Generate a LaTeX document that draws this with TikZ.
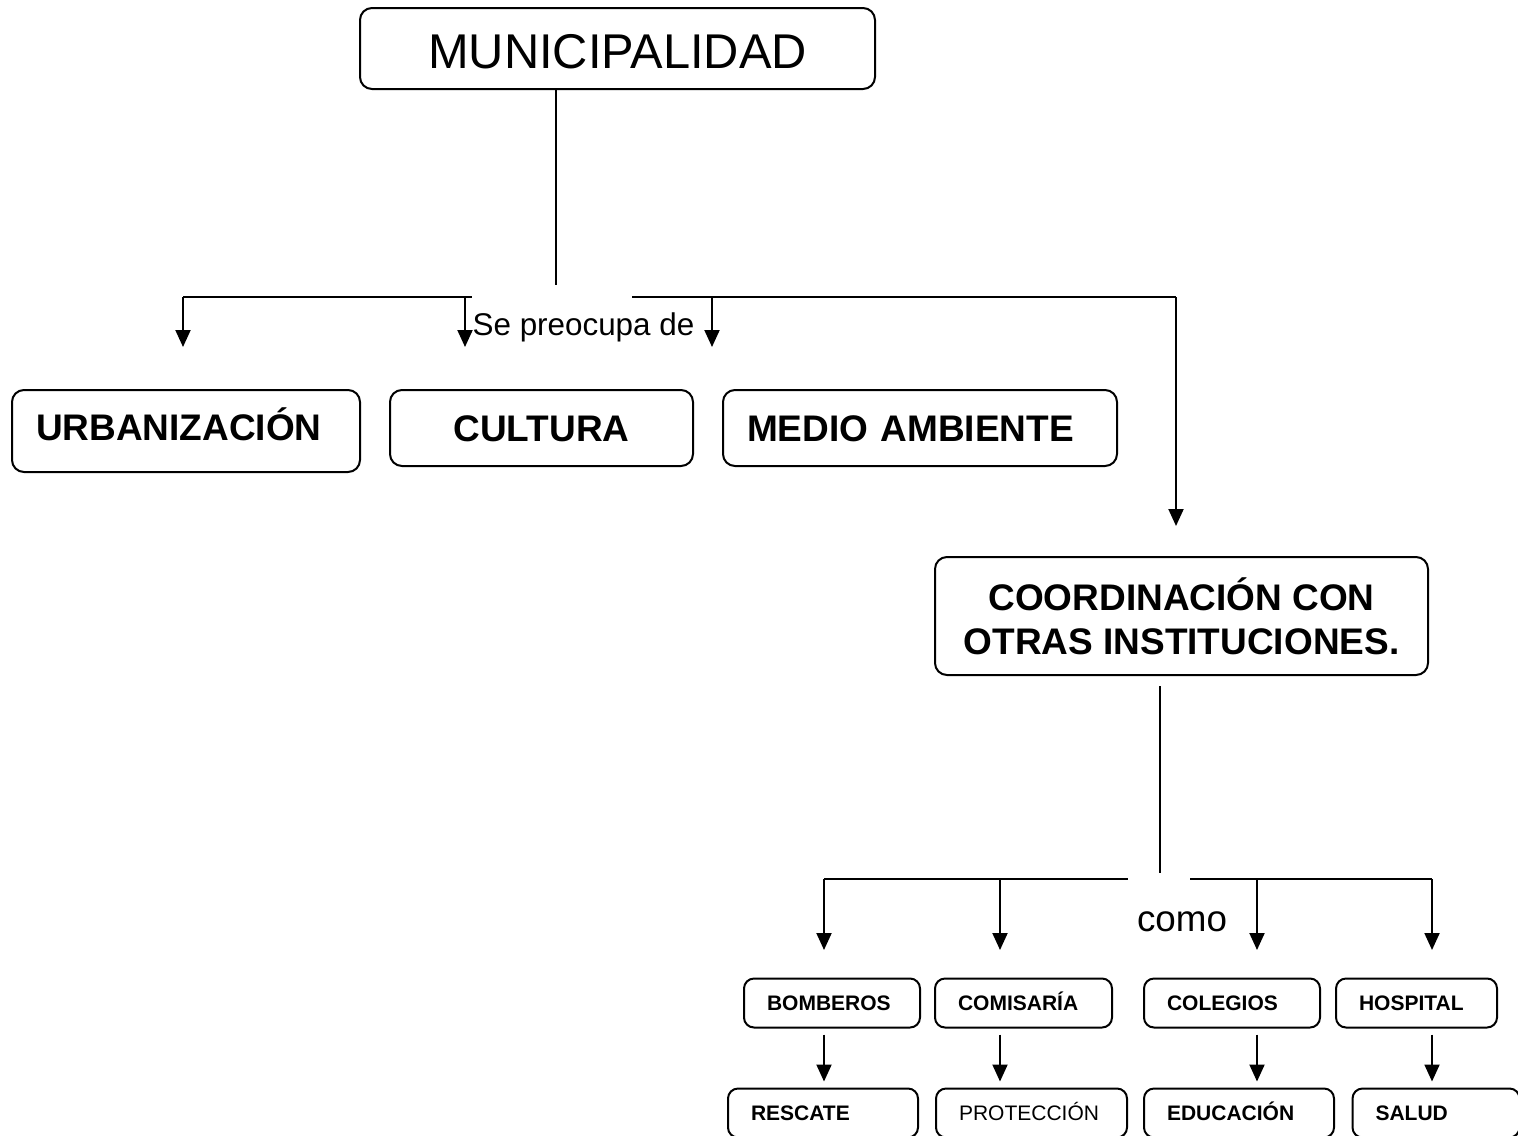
\documentclass[tikz,border=0pt]{standalone}
\usepackage{fontspec}
\setmainfont{Liberation Sans}
\usetikzlibrary{arrows.meta}
\newcommand\letragrande{\fontsize{18.5}{22}\selectfont\bfseries}
\newcommand\letrachica{\fontsize{10.5}{12}\selectfont}
\tikzset{
  linea/.style={line width=1pt},
  flecha/.style={linea, -{Triangle[length=8.5pt,width=7.5pt]}},
  caja/.style={draw, line width=1pt, rounded corners=6pt, inner sep=0pt, font=\letragrande},
  cajaizq/.style={caja, align=left, inner xsep=12pt, text height=13.2pt, text depth=0pt},
  chica/.style={draw, line width=1pt, rounded corners=5pt, inner ysep=0pt, inner xsep=11.5pt,
    align=left, minimum height=24.5pt, text height=7.5pt, text depth=0pt, font=\letrachica\bfseries},
}
\begin{document}
\begin{tikzpicture}[x=0.5pt,y=-0.5pt]
\clip (0,0) rectangle (1518,1135);
% cajas
\node[caja, minimum width=257.5pt, minimum height=40.5pt, text height=19.5pt, text depth=0pt,
  font=\fontsize{24.4}{28}\selectfont] (muni) at (617.5,48.5) {MUNICIPALIDAD};
\node[cajaizq, text width=150pt, minimum height=41pt, text depth=3.5pt] (urb) at (186,431) {URBANIZACIÓN};
\node[caja, minimum width=151.5pt, minimum height=38pt, text height=13.2pt, text depth=0pt] (cul) at (541.5,428) {CULTURA};
\node[cajaizq, text width=173pt, minimum height=38pt] (med) at (920,428) {MEDIO AMBIENTE};
\node[caja, align=center, minimum width=246.5pt, minimum height=59pt] (coord) at (1181.5,616) {COORDINACIÓN CON\\OTRAS INSTITUCIONES.};
\node[chica, text width=65pt] (bom) at (832,1003) {BOMBEROS};
\node[chica, text width=65.5pt] (com) at (1023.5,1003) {COMISARÍA};
\node[chica, text width=65pt] (col) at (1232,1003) {COLEGIOS};
\node[chica, text width=57.5pt] (hos) at (1416.5,1003) {HOSPITAL};
\node[chica, text width=72pt] (res) at (823,1113) {RESCATE};
\node[chica, text width=72.5pt, font=\letrachica] (pro) at (1031.5,1113) {PROTECCIÓN};
\node[chica, text width=72pt] (edu) at (1239,1113) {EDUCACIÓN};
\node[chica, text width=60.5pt] (sal) at (1436,1113) {SALUD};
% textos
\node[font=\fontsize{15.7}{18}\selectfont, inner sep=0pt] (preo) at (583.5,327) {Se preocupa de};
\node[font=\fontsize{18.4}{22}\selectfont, inner sep=0pt] (como) at (1182,922) {como};
% conectores de arriba
\coordinate (c0) at (556,285);
\draw[linea] (muni.south -| c0) -- (c0);
\coordinate (h2) at (472,297);
\coordinate (h3) at (632,297);
\foreach \x [count=\i] in {183,465,712}{
  \coordinate (t\i) at (\x,297);
  \coordinate (e\i) at (\x,347);
  \draw[flecha] (t\i) -- (e\i);
}
\coordinate (t4) at (1176,297);
\coordinate (e4) at (1176,526);
\draw[linea] (t1) -- (h2);
\draw[linea] (h3) -- (t4);
\draw[flecha] (t4) -- (e4);
% conectores de abajo
\coordinate (d1) at (1160,873);
\draw[linea] ([yshift=-5pt]coord.south -| d1) -- (d1);
\coordinate (m1) at (1128,879);
\coordinate (m2) at (1190,879);
\foreach \x/\a/\b [count=\i] in {824/bom/res,1000/com/pro,1257/col/edu,1432/hos/sal}{
  \coordinate (g\i) at (\x,879);
  \coordinate (b\i) at (\x,950);
  \draw[flecha] (g\i) -- (b\i);
  \draw[flecha, shorten <=3pt, shorten >=3pt] (\a.south -| b\i) -- (\b.north -| b\i);
}
\draw[linea] (g1) -- (m1);
\draw[linea] (m2) -- (g4);
\end{tikzpicture}
\end{document}
